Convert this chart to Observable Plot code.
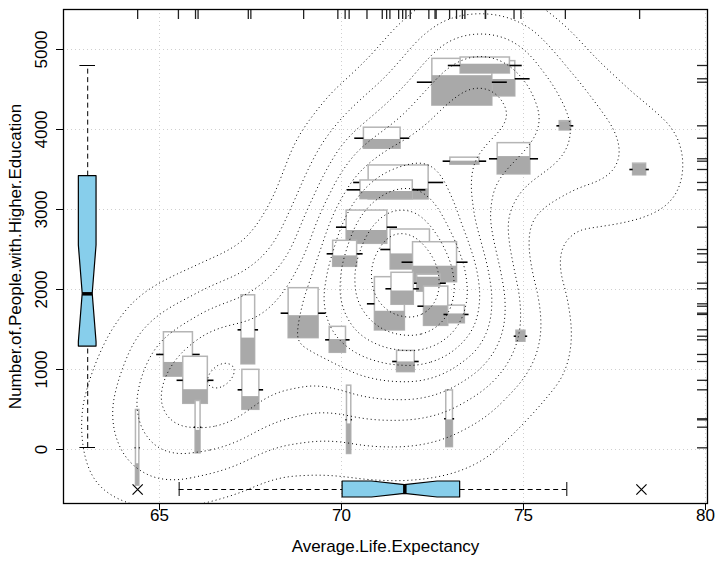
<!DOCTYPE html>
<html><head><meta charset="utf-8">
<script src="https://cdn.jsdelivr.net/npm/d3@7"></script>
<script src="https://cdn.jsdelivr.net/npm/@observablehq/plot@0.6"></script>
<style>html,body{margin:0;padding:0;background:#fff;}</style>
</head><body><div id="chart"></div>
<script>
// ---- data ----
const lifeExp   = [73.96,73.32,73.95,73.39,71.12,71.57,71.24,70.70,70.10,71.89,72.57,72.40,71.33,71.68,72.60,73.16,69.90,71.77,74.74,76.15,78.19,70.21,72.97,74.93,64.40,65.52,65.99,66.06,67.44,67.51,68.96];
const higherEdu = [4634,4591,4800,3604,3891,3338,3246,2779,2446,2500,2341,2079,1821,2009,1791,1688,1371,1100,3634,4046,3500,371,384,1416,21,1188,865,279,1496,746,1704];
const boxWidth  = [1.629,1.648,1.354,0.797,1.008,1.648,1.437,1.118,0.659,1.080,1.209,0.640,0.824,0.613,0.668,0.459,0.448,0.486,0.898,0.310,0.357,0.118,0.184,0.247,0.093,0.797,0.676,0.137,0.376,0.467,0.824];
const boxHeight = [441,584,200,88,263,425,234,416,325,500,500,213,666,400,491,221,325,266,391,116,146,854,709,138,946,555,588,655,863,500,625];
const fillShare = [0.48,0.64,0.58,0.5,0.44,0.31,0.41,0.40,0.42,0.39,0.40,0.85,0.36,0.43,0.51,0.53,0.51,0.48,0.57,0.95,0.95,0.44,0.48,0.95,0.29,0.32,0.30,0.44,0.38,0.33,0.45];

const xTicks = [65, 70, 75, 80];
const yTicks = [0, 1000, 2000, 3000, 4000, 5000];

// marginal boxplot statistics: [lower whisker, Q1, median, Q3, upper whisker]
const lifeExpStats = [65.54, 70.03, 71.74, 73.26, 76.19];
const lifeExpNotch = [70.84, 72.64];
const lifeExpOutliers = [64.40, 78.24];
const higherEduStats = [25, 1287, 1946, 3417, 4800];
const higherEduNotch = [1342, 2550];

// ---- layout ----
const W = 718, H = 566, mL = 63, mR = 11, mT = 9, mB = 63;
const plotW = W - mL - mR, plotH = H - mT - mB;
const xDomain = [62.363, 80.055];
const yDomain = [-675, 5500];
const xPerPx = (xDomain[1] - xDomain[0]) / plotW;
const yPerPx = (yDomain[1] - yDomain[0]) / plotH;

const font = "Liberation Sans, Arial, Helvetica, sans-serif";
const sky = "#87CEEB";

const glyphs = lifeExp.map((x, i) => ({x, y: higherEdu[i], w: boxWidth[i], h: boxHeight[i], p: fillShare[i]}));

const glyphMarks = glyphs.flatMap(g => [
  Plot.rect([g], {x1: d => d.x - d.w/2, x2: d => d.x + d.w/2, y1: d => d.y - d.h/2, y2: d => d.y + d.h/2,
    fill: "white", stroke: "#b5b5b5", strokeWidth: 1.5}),
  Plot.rect([g], {x1: d => d.x - d.w/2, x2: d => d.x + d.w/2, y1: d => d.y - d.h/2, y2: d => d.y - d.h/2 + d.h*d.p,
    fill: "#a9a9a9"}),
  Plot.ruleY([g], {y: "y", x1: d => d.x - 0.75*d.w, x2: d => d.x - d.w/2, stroke: "black", strokeWidth: 1.6}),
  Plot.ruleY([g], {y: "y", x1: d => d.x + d.w/2, x2: d => d.x + 0.75*d.w, stroke: "black", strokeWidth: 1.6})
]);

// vertical (left) boxplot of higherEdu
const xc = xDomain[0] + 24.2 * xPerPx;
const hw = 8.85 * xPerPx, nw = 5 * xPerPx, cw = 7.8 * xPerPx;
const [yMin, yQ1, yMed, yQ3, yMax] = higherEduStats;
const yBoxShape = [
  {y: yQ1, x1: xc - hw, x2: xc + hw},
  {y: higherEduNotch[0], x1: xc - hw, x2: xc + hw},
  {y: yMed, x1: xc - nw, x2: xc + nw},
  {y: higherEduNotch[1], x1: xc - hw, x2: xc + hw},
  {y: yQ3, x1: xc - hw, x2: xc + hw}
];
// horizontal (bottom) boxplot of lifeExp
const yc = yDomain[0] + 14 * yPerPx;
const hh = 8 * yPerPx, nh = 4.4 * yPerPx, ch = 7 * yPerPx;
const [xMin, xQ1, xMed, xQ3, xMax] = lifeExpStats;
const xBoxShape = [
  {x: xQ1, y1: yc - hh, y2: yc + hh},
  {x: lifeExpNotch[0], y1: yc - hh, y2: yc + hh},
  {x: xMed, y1: yc - nh, y2: yc + nh},
  {x: lifeExpNotch[1], y1: yc - hh, y2: yc + hh},
  {x: xQ3, y1: yc - hh, y2: yc + hh}
];
const dash = "5,3.5";

const chart = Plot.plot({
  width: W, height: H,
  marginLeft: mL, marginRight: mR, marginTop: mT, marginBottom: mB,
  style: {fontFamily: font, fontSize: "17px", background: "white", color: "black"},
  x: {domain: xDomain, ticks: xTicks, tickSize: 7, tickFormat: () => "", label: null},
  y: {domain: yDomain, ticks: yTicks, tickSize: 7, tickFormat: () => "", label: null},
  marks: [
    Plot.ruleX(xTicks, {x: d => d, stroke: "#cfcfcf", strokeDasharray: "1,3"}),
    Plot.ruleY(yTicks, {y: d => d, stroke: "#cfcfcf", strokeDasharray: "1,3"}),
    ...glyphMarks,
    Plot.density(glyphs, {x: "x", y: "y", bandwidth: 50, thresholds: 10, stroke: "black", strokeWidth: 1, strokeDasharray: "1,3", clip: true}),
    // left boxplot
    Plot.ruleX([xc], {x: d => d, y1: yQ3, y2: yMax, stroke: "black", strokeDasharray: dash}),
    Plot.ruleX([xc], {x: d => d, y1: yMin, y2: yQ1, stroke: "black", strokeDasharray: dash}),
    Plot.ruleY([yMin, yMax], {y: d => d, x1: xc - cw, x2: xc + cw, stroke: "black"}),
    Plot.areaX(yBoxShape, {y: "y", x1: "x1", x2: "x2", fill: sky, stroke: "black", strokeWidth: 1.2}),
    Plot.ruleY([yMed], {y: d => d, x1: xc - nw, x2: xc + nw, stroke: "black", strokeWidth: 3.5}),
    // bottom boxplot
    Plot.ruleY([yc], {y: d => d, x1: xMin, x2: xQ1, stroke: "black", strokeDasharray: dash}),
    Plot.ruleY([yc], {y: d => d, x1: xQ3, x2: xMax, stroke: "black", strokeDasharray: dash}),
    Plot.ruleX([xMin, xMax], {x: d => d, y1: yc - ch, y2: yc + ch, stroke: "black"}),
    Plot.areaY(xBoxShape, {x: "x", y1: "y1", y2: "y2", fill: sky, stroke: "black", strokeWidth: 1.2}),
    Plot.ruleX([xMed], {x: d => d, y1: yc - nh, y2: yc + nh, stroke: "black", strokeWidth: 3.5}),
    Plot.dot(lifeExpOutliers, {x: d => d, y: () => yc, symbol: "times", r: 4.7, stroke: "black", strokeWidth: 1.2}),
    // rugs
    Plot.ruleX(lifeExp, {x: d => d, insetBottom: plotH - 10, stroke: "#222", strokeWidth: 1.3}),
    Plot.ruleY(higherEdu, {y: d => d, insetLeft: plotW - 10, stroke: "#222", strokeWidth: 1.3}),
    Plot.frame({stroke: "black", strokeWidth: 1.3}),
    // tick labels & titles
    Plot.text(xTicks, {x: d => d, text: d => String(d), frameAnchor: "bottom", textAnchor: "middle", dy: 17, fontSize: 17}),
    Plot.text(yTicks, {y: d => d, text: d => String(d), frameAnchor: "left", textAnchor: "middle", dx: -22, rotate: -90, fontSize: 17}),
    Plot.text(["Average.Life.Expectancy"], {text: d => d, frameAnchor: "bottom", textAnchor: "middle", dy: 48, fontSize: 17}),
    Plot.text(["Number.of.People.with.Higher.Education"], {text: d => d, frameAnchor: "left", textAnchor: "middle", dx: -48, rotate: -90, fontSize: 17})
  ]
});
document.getElementById("chart").appendChild(chart);
</script>
</body></html>
